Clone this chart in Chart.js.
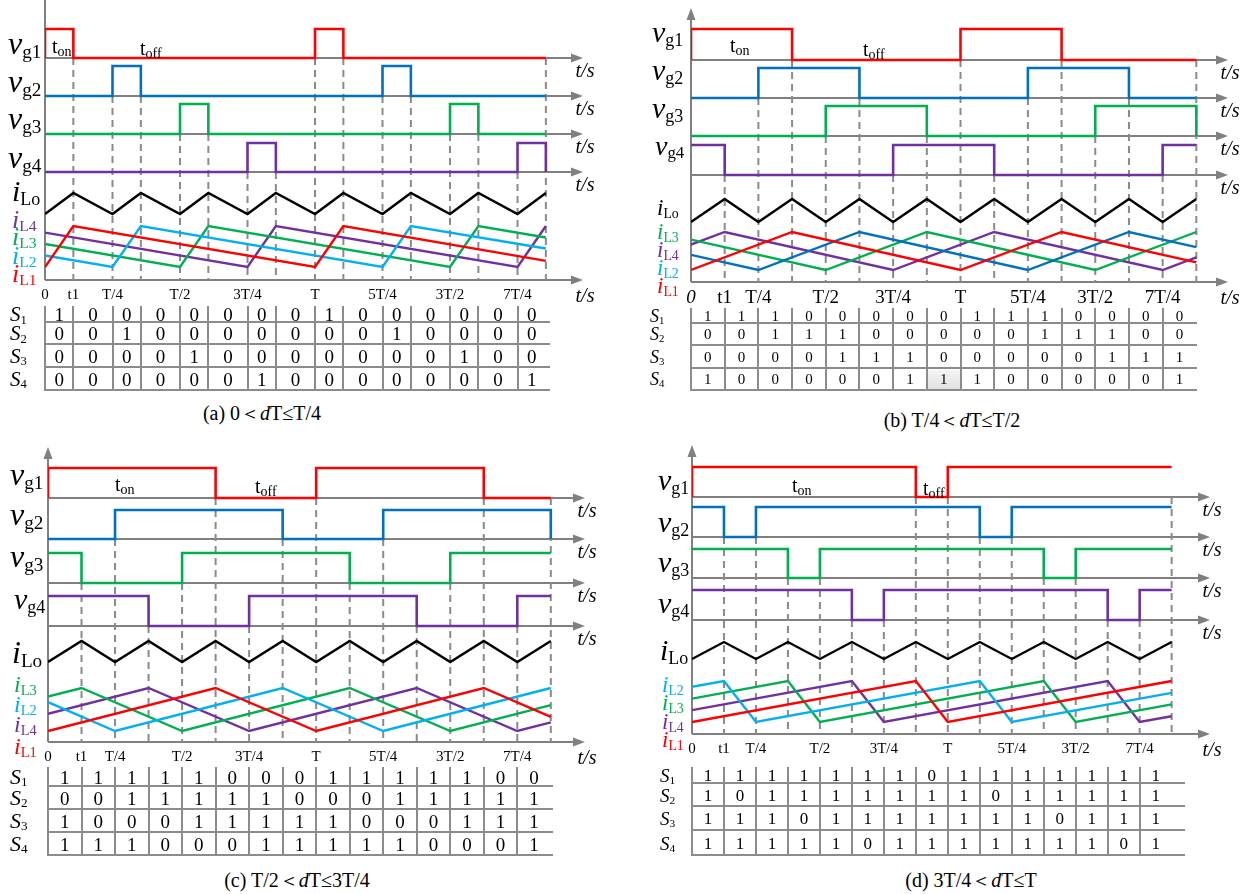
<!DOCTYPE html>
<html lang="en">
<head>
<meta charset="UTF-8">
<title>Gate signals, inductor currents and switch states</title>
<script src="https://cdn.jsdelivr.net/npm/chart.js"></script>
<style>
  body { margin: 0; background: #fff; }
  #page { position: relative; width: 1250px; height: 894px; overflow: hidden; background: #fff;
          font-family: "Liberation Serif", "Times New Roman", serif; color: #000; }
  canvas { position: absolute; }
  .lab { position: absolute; white-space: nowrap; line-height: 1; transform: translateY(-50%); }
  .lab sub { font-size: 0.6em; vertical-align: baseline; position: relative; top: 0.2em; font-style: normal; }
  .ton sub { font-size: 0.7em; }
  .cell { position: absolute; transform: translate(-50%, -50%); line-height: 1; }
  .ln { position: absolute; background: #8c8c8c; }
  .cap { position: absolute; transform: translate(-50%, -50%); font-size: 20px; white-space: nowrap; line-height: 1; }
</style>
</head>
<body>
<div id="page"></div>
<script>
  // break points of every case, in units of T/4 (t1 = dT)
  const tA = [0, 0.42, 1, 1.42, 2, 2.42, 3, 3.42, 4, 4.42, 5, 5.42, 6, 6.42, 7, 7.42];
  const tB = [0, 0.5, 1, 1.5, 2, 2.5, 3, 3.5, 4, 4.5, 5, 5.5, 6, 6.5, 7, 7.5];
  const tC = [0, 0.5, 1, 1.5, 2, 2.5, 3, 3.5, 4, 4.5, 5, 5.5, 6, 6.5, 7, 7.5];
  const tD = [0, 0.5, 1, 1.5, 2, 2.5, 3, 3.5, 4, 4.5, 5, 5.5, 6, 6.5, 7, 7.5];

  // x axis ticks
  const tickLabels = ['0', 't1', 'T/4', 'T/2', '3T/4', 'T', '5T/4', '3T/2', '7T/4'];
  const ticksA = [0, 0.42, 1, 2, 3, 4, 5, 6, 7];
  const ticksB = [0, 0.5, 1, 2, 3, 4, 5, 6, 7];

  // switch states S1..S4 per interval (also the gate signals vg1..vg4)
  const s1A = [1,0,0,0,0,0,0,0,1,0,0,0,0,0,0];
  const s2A = [0,0,1,0,0,0,0,0,0,0,1,0,0,0,0];
  const s3A = [0,0,0,0,1,0,0,0,0,0,0,0,1,0,0];
  const s4A = [0,0,0,0,0,0,1,0,0,0,0,0,0,0,1];

  const s1B = [1,1,1,0,0,0,0,0,1,1,1,0,0,0,0];
  const s2B = [0,0,1,1,1,0,0,0,0,0,1,1,1,0,0];
  const s3B = [0,0,0,0,1,1,1,0,0,0,0,0,1,1,1];
  const s4B = [1,0,0,0,0,0,1,1,1,0,0,0,0,0,1];

  const s1C = [1,1,1,1,1,0,0,0,1,1,1,1,1,0,0];
  const s2C = [0,0,1,1,1,1,1,0,0,0,1,1,1,1,1];
  const s3C = [1,0,0,0,1,1,1,1,1,0,0,0,1,1,1];
  const s4C = [1,1,1,0,0,0,1,1,1,1,1,0,0,0,1];

  const s1D = [1,1,1,1,1,1,1,0,1,1,1,1,1,1,1];
  const s2D = [1,0,1,1,1,1,1,1,1,0,1,1,1,1,1];
  const s3D = [1,1,1,0,1,1,1,1,1,1,1,0,1,1,1];
  const s4D = [1,1,1,1,1,0,1,1,1,1,1,1,1,0,1];

  // output current iLo at the break points (relative level)
  const iLo = [0,1,0,1,0,1,0,1,0,1,0,1,0,1,0,1];

  // inductor currents, corner points [t, relative level]
  const iL1A = [[0,0],[0.42,1],[4,0],[4.42,1],[7.42,0.15]];
  const iL2A = [[0,0.28],[1,0],[1.42,1],[5,0],[5.42,1],[7.42,0.45]];
  const iL3A = [[0,0.56],[2,0],[2.42,1],[6,0],[6.42,1],[7.42,0.72]];
  const iL4A = [[0,0.84],[3,0],[3.42,1],[7,0],[7.42,1]];

  const iL1B = [[0,0],[1.5,1],[4,0],[5.5,1],[7.5,0.2]];
  const iL2B = [[0,0.4],[1,0],[2.5,1],[5,0],[6.5,1],[7.5,0.6]];
  const iL3B = [[0,0.8],[2,0],[3.5,1],[6,0],[7.5,1]];
  const iL4B = [[0,0.67],[0.5,1],[3,0],[4.5,1],[7,0],[7.5,0.33]];

  const iL1C = [[0,0],[2.5,1],[4,0],[6.5,1],[7.5,0.33]];
  const iL2C = [[0,0.67],[1,0],[3.5,1],[5,0],[7.5,1]];
  const iL3C = [[0,0.8],[0.5,1],[2,0],[4.5,1],[6,0],[7.5,0.6]];
  const iL4C = [[0,0.4],[1.5,1],[3,0],[5.5,1],[7,0],[7.5,0.2]];

  const iL1D = [[0,0],[3.5,1],[4,0],[7.5,1]];
  const iL2D = [[0,0.86],[0.5,1],[1,0],[4.5,1],[5,0],[7.5,0.71]];
  const iL3D = [[0,0.57],[1.5,1],[2,0],[5.5,1],[6,0],[7.5,0.43]];
  const iL4D = [[0,0.29],[2.5,1],[3,0],[6.5,1],[7,0],[7.5,0.14]];

  const RED = '#ff0000', BLUE = '#0070c0', CYAN = '#00b0f0', GREEN = '#00b050', PURPLE = '#7030a0';
  const SERIF = '"Liberation Serif", "Times New Roman", serif';
  const gateColors = [RED, BLUE, GREEN, PURPLE];

  const vg = (n) => '<i>v</i><sub>g' + n + '</sub>';
  const il = (s) => '<i>i</i><sub>' + s + '</sub>';

  const panels = [
    {
      t: tA, ticks: ticksA, s: [s1A, s2A, s3A, s4A], iL: [iL1A, iL2A, iL3A, iL4A],
      iLColors: [RED, CYAN, GREEN, PURPLE], dropEnd: [3],
      box: {x: 0, y: 0, w: 625, h: 305}, area: {l: 45, r: 583, t: 0, b: 280}, xMax: 7.97,
      rows: {g1: [58, 29], g2: [96, 66], g3: [134, 104], g4: [172, 143], lo: [214, 193], il: [267, 226]},
      tickSize: 15, tickPad: 6, arrowTop: false, zeroItalic: false,
      table: {top: 306, lines: [322, 344, 367, 390], right: 550, size: 19, labelX: 10, labelSize: 21},
      caption: {x: 262, y: 413, html: '(a) 0＜<i>d</i>T≤T/4'},
      labels: [
        [vg(1), 8, 43, 32, '#000'], [vg(2), 8, 81, 32, '#000'], [vg(3), 8, 118, 32, '#000'], [vg(4), 8, 157, 32, '#000'],
        [il('Lo'), 12, 191, 30, '#000'], [il('L4'), 12, 220, 26, PURPLE], [il('L3'), 12, 237, 26, GREEN],
        [il('L2'), 12, 256, 26, CYAN], [il('L1'), 12, 274, 26, RED]
      ],
      ton: [52, 46], toff: [140, 48]
    },
    {
      t: tB, ticks: ticksB, s: [s1B, s2B, s3B, s4B], iL: [iL1B, iL2B, iL3B, iL4B],
      iLColors: [RED, BLUE, GREEN, PURPLE], dropEnd: [2], shade: [3, 7],
      box: {x: 630, y: 0, w: 620, h: 305}, area: {l: 691, r: 1228, t: 8, b: 282}, xMax: 7.97,
      rows: {g1: [60, 29], g2: [98, 68], g3: [136, 106], g4: [175, 145], lo: [222, 199], il: [270, 232]},
      tickSize: 19, tickPad: 5, arrowTop: true, zeroItalic: true,
      table: {top: 308, lines: [323, 345, 368, 390], right: 1197, size: 15, labelX: 650, labelSize: 18},
      caption: {x: 952, y: 420, html: '(b) T/4＜<i>d</i>T≤T/2'},
      labels: [
        [vg(1), 652, 32, 30, '#000'], [vg(2), 652, 70, 30, '#000'], [vg(3), 652, 108, 30, '#000'], [vg(4), 655, 146, 28, '#000'],
        [il('Lo'), 657, 207, 23, '#000'], [il('L3'), 657, 231, 23, GREEN], [il('L4'), 657, 249, 23, PURPLE],
        [il('L2'), 657, 267, 23, CYAN], [il('L1'), 657, 285, 23, RED]
      ],
      ton: [730, 45], toff: [863, 49]
    },
    {
      t: tC, ticks: ticksB, s: [s1C, s2C, s3C, s4C], iL: [iL1C, iL2C, iL3C, iL4C],
      iLColors: [RED, CYAN, GREEN, PURPLE], dropEnd: [1],
      box: {x: 0, y: 440, w: 625, h: 330}, area: {l: 48, r: 585, t: 447, b: 742}, xMax: 8.01,
      rows: {g1: [498, 468], g2: [539, 510], g3: [583, 553], g4: [626, 596], lo: [662, 641], il: [731, 688]},
      tickSize: 15, tickPad: 6, arrowTop: true, zeroItalic: false,
      table: {top: 767, lines: [786, 809, 832, 855], right: 553, size: 19, labelX: 10, labelSize: 22},
      caption: {x: 297, y: 880, html: '(c) T/2＜<i>d</i>T≤3T/4'},
      labels: [
        [vg(1), 10, 474, 32, '#000'], [vg(2), 10, 514, 32, '#000'], [vg(3), 10, 556, 32, '#000'], [vg(4), 14, 599, 30, '#000'],
        [il('Lo'), 12, 652, 32, '#000'], [il('L3'), 14, 684, 24, GREEN], [il('L2'), 14, 704, 24, CYAN],
        [il('L4'), 14, 724, 24, PURPLE], [il('L1'), 14, 746, 24, RED]
      ],
      ton: [115, 484], toff: [255, 486]
    },
    {
      t: tD, ticks: ticksB, s: [s1D, s2D, s3D, s4D], iL: [iL1D, iL2D, iL3D, iL4D],
      iLColors: [RED, CYAN, GREEN, PURPLE], dropEnd: [],
      box: {x: 630, y: 440, w: 620, h: 320}, area: {l: 692, r: 1210, t: 445, b: 734}, xMax: 8.1,
      rows: {g1: [497, 467], g2: [537, 507], g3: [578, 549], g4: [620, 590], lo: [659, 642], il: [722, 681]},
      tickSize: 15, tickPad: 6, arrowTop: true, zeroItalic: false,
      table: {top: 767, lines: [783, 806, 830, 855], right: 1185, size: 17, labelX: 660, labelSize: 19},
      caption: {x: 971, y: 880, html: '(d) 3T/4＜<i>d</i>T≤T'},
      labels: [
        [vg(1), 658, 480, 30, '#000'], [vg(2), 658, 522, 30, '#000'], [vg(3), 658, 562, 30, '#000'], [vg(4), 658, 603, 30, '#000'],
        [il('Lo'), 660, 650, 30, '#000'], [il('L2'), 662, 684, 23, CYAN], [il('L3'), 662, 702, 23, GREEN],
        [il('L4'), 662, 721, 23, PURPLE], [il('L1'), 662, 739, 23, RED]
      ],
      ton: [792, 485], toff: [923, 488]
    }
  ];

  // value 0 sits at pixel p0 and value 1 at pixel p1
  function fitAxis(p0, p1, top, bottom) {
    const u = p0 - p1;
    return { min: -(bottom - p0) / u, max: 1 + (p1 - top) / u };
  }

  function arrowRight(ctx, x, y) {
    ctx.beginPath(); ctx.moveTo(x, y); ctx.lineTo(x - 12, y - 4.5); ctx.lineTo(x - 12, y + 4.5); ctx.closePath(); ctx.fill();
  }

  // grey axes with arrows, and the t/s marks
  const axesPlugin = {
    id: 'axes',
    beforeDatasetsDraw(chart, args, o) {
      const { ctx, chartArea: a, scales } = chart;
      ctx.save();
      ctx.strokeStyle = ctx.fillStyle = '#808080';
      ctx.lineWidth = 1.8;
      const ys = ['g1', 'g2', 'g3', 'g4'].map(k => scales[k].getPixelForValue(0));
      ys.push(a.bottom);
      ys.forEach(y => {
        ctx.beginPath(); ctx.moveTo(a.left, y); ctx.lineTo(a.right - 8, y); ctx.stroke();
        arrowRight(ctx, a.right, y);
      });
      ctx.lineWidth = 2;
      ctx.beginPath(); ctx.moveTo(a.left, a.bottom); ctx.lineTo(a.left, o.arrowTop ? a.top + 8 : a.top); ctx.stroke();
      if (o.arrowTop) {
        ctx.beginPath(); ctx.moveTo(a.left, a.top); ctx.lineTo(a.left - 4.5, a.top + 12); ctx.lineTo(a.left + 4.5, a.top + 12); ctx.closePath(); ctx.fill();
      }
      ctx.restore();
    },
    afterDraw(chart) {
      const { ctx, chartArea: a, scales } = chart;
      ctx.save();
      ctx.fillStyle = '#000';
      ctx.font = 'italic 20px ' + SERIF;
      ctx.textAlign = 'center';
      ctx.textBaseline = 'middle';
      ['g1', 'g2', 'g3', 'g4'].forEach(k => ctx.fillText('t/s', a.right + 2, scales[k].getPixelForValue(0) + 14));
      ctx.fillText('t/s', a.right + 2, a.bottom + 17);
      ctx.restore();
    }
  };

  const page = document.getElementById('page');

  function addDiv(cls, html, style) {
    const d = document.createElement('div');
    d.className = cls;
    d.innerHTML = html;
    Object.assign(d.style, style);
    page.appendChild(d);
    return d;
  }

  panels.forEach(P => {
    const { box, area } = P;
    const canvas = document.createElement('canvas');
    canvas.width = box.w; canvas.height = box.h;
    canvas.style.left = box.x + 'px'; canvas.style.top = box.y + 'px';
    canvas.style.width = box.w + 'px'; canvas.style.height = box.h + 'px';
    page.appendChild(canvas);

    const scales = {
      x: {
        type: 'linear', min: 0, max: P.xMax,
        grid: { display: false, drawTicks: false }, border: { display: false },
        afterBuildTicks: s => { s.ticks = P.ticks.map(v => ({ value: v })); },
        afterFit: s => { s.height = box.y + box.h - area.b; },
        ticks: {
          autoSkip: false, maxRotation: 0, padding: P.tickPad, color: '#000',
          font: c => ({ family: SERIF, size: P.tickSize, style: (P.zeroItalic && c.index === 0) ? 'italic' : 'normal' }),
          callback: (v, i) => tickLabels[i]
        }
      }
    };
    const mins = {};
    Object.keys(P.rows).forEach(k => {
      const f = fitAxis(P.rows[k][0], P.rows[k][1], area.t, area.b);
      mins[k] = f.min;
      scales[k] = { type: 'linear', display: false, min: f.min, max: f.max };
    });

    const datasets = [];
    const n = P.t.length - 1;

    // dashed guide lines, from the baseline of the gate that switches
    for (let i = 1; i <= n; i++) {
      let g = 0;
      if (i < n) {
        g = P.s.findIndex(row => row[i - 1] !== row[i]);
        if (g < 0) g = 0;
      }
      const key = 'g' + (g + 1);
      datasets.push({
        data: [{ x: P.t[i], y: 0 }, { x: P.t[i], y: mins[key] }],
        yAxisID: key, borderColor: '#8a8a8a', borderWidth: 2, borderDash: [7, 5],
        pointRadius: 0, order: 5
      });
    }

    // gate signals
    P.s.forEach((row, g) => {
      const pts = [];
      if (g === 0 && row[0] === 1) pts.push({ x: P.t[0], y: 0 });
      row.forEach((v, i) => pts.push({ x: P.t[i], y: v }));
      pts.push({ x: P.t[n], y: row[n - 1] });
      if (P.dropEnd.includes(g)) pts.push({ x: P.t[n], y: 0 });
      datasets.push({
        data: pts, yAxisID: 'g' + (g + 1), stepped: true,
        borderColor: gateColors[g], borderWidth: 2.6, pointRadius: 0, order: 1
      });
    });

    // output current
    datasets.push({
      data: iLo.map((v, i) => ({ x: P.t[i], y: v })), yAxisID: 'lo',
      borderColor: '#000', borderWidth: 2.4, pointRadius: 0, order: 1
    });

    // inductor currents
    P.iL.forEach((pts, k) => {
      datasets.push({
        data: pts.map(p => ({ x: p[0], y: p[1] })), yAxisID: 'il',
        borderColor: P.iLColors[k], borderWidth: 2.4, pointRadius: 0, order: 1
      });
    });

    const chart = new Chart(canvas, {
      type: 'line',
      data: { datasets },
      options: {
        responsive: false, animation: false, devicePixelRatio: 1, events: [],
        layout: { padding: { left: area.l - box.x, right: box.x + box.w - area.r, top: area.t - box.y, bottom: 0 } },
        scales,
        elements: { line: { tension: 0, borderCapStyle: 'butt', borderJoinStyle: 'miter' } },
        plugins: { legend: { display: false }, tooltip: { enabled: false }, axes: { arrowTop: P.arrowTop } }
      },
      plugins: [axesPlugin]
    });

    // left-hand labels
    P.labels.forEach(([html, x, y, size, color]) => {
      addDiv('lab', html, { left: x + 'px', top: y + 'px', fontSize: size + 'px', color });
    });
    addDiv('lab ton', 't<sub>on</sub>', { left: P.ton[0] + 'px', top: P.ton[1] + 'px', fontSize: '20px' });
    addDiv('lab ton', 't<sub>off</sub>', { left: P.toff[0] + 'px', top: P.toff[1] + 'px', fontSize: '20px' });

    // switch-state table
    const px = v => box.x + chart.scales.x.getPixelForValue(v);
    const tb = P.table;
    const bottom = tb.lines[tb.lines.length - 1];
    for (let i = 0; i < n; i++) {
      addDiv('ln', '', { left: (px(P.t[i]) - 1) + 'px', top: tb.top + 'px', width: '2px', height: (bottom - tb.top + 1) + 'px' });
    }
    tb.lines.forEach(y => {
      addDiv('ln', '', { left: px(0) + 'px', top: (y - 1) + 'px', width: (tb.right - px(0)) + 'px', height: '2px' });
    });
    P.s.forEach((row, r) => {
      const y0 = r === 0 ? tb.top : tb.lines[r - 1];
      const cy = (y0 + tb.lines[r]) / 2;
      if (P.shade && P.shade[0] === r) {
        const c = P.shade[1];
        addDiv('ln', '', { left: (px(P.t[c]) + 1) + 'px', top: (y0 + 2) + 'px', width: (px(P.t[c + 1]) - px(P.t[c]) - 2) + 'px',
          height: (tb.lines[r] - y0 - 3) + 'px', background: 'linear-gradient(#f4f4f4, #e2e2e2)' });
      }
      row.forEach((v, c) => {
        addDiv('cell', String(v), { left: ((px(P.t[c]) + px(P.t[c + 1])) / 2) + 'px', top: cy + 'px', fontSize: tb.size + 'px' });
      });
      addDiv('lab', '<i>S</i><sub>' + (r + 1) + '</sub>', { left: tb.labelX + 'px', top: cy + 'px', fontSize: tb.labelSize + 'px' });
    });

    addDiv('cap', P.caption.html, { left: P.caption.x + 'px', top: P.caption.y + 'px' });
  });
</script>
</body>
</html>
